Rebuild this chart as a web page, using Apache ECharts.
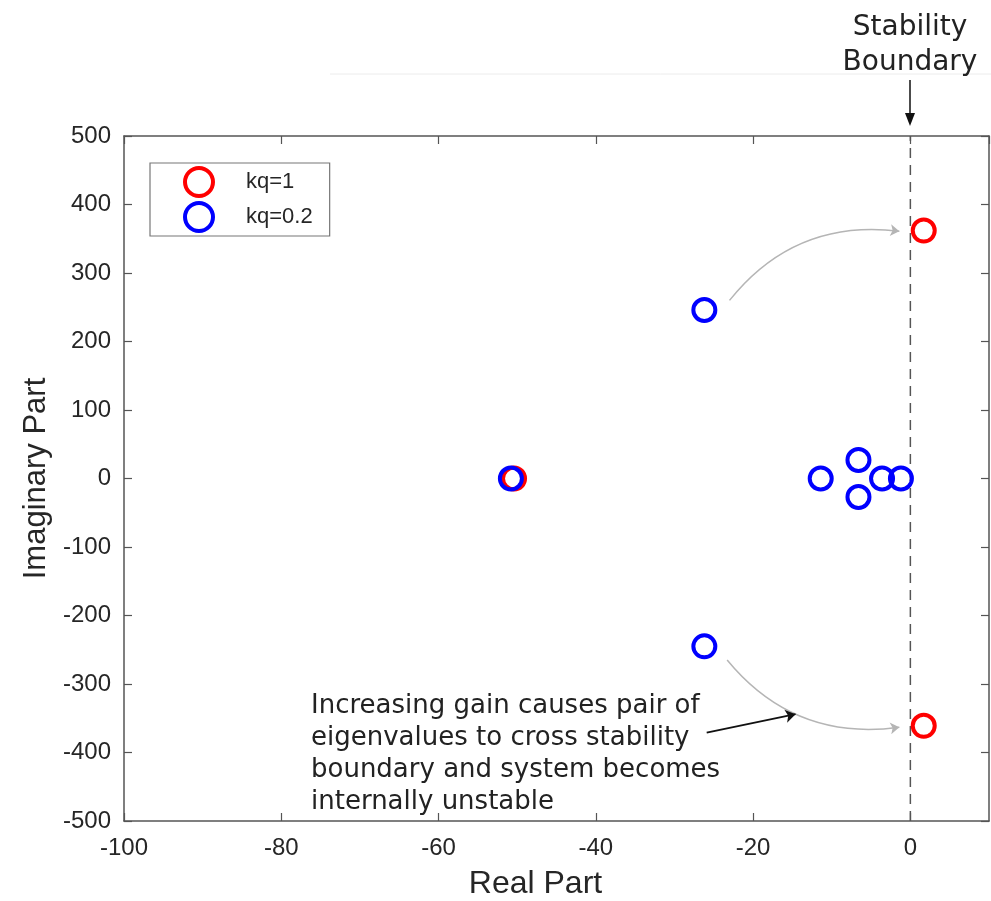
<!DOCTYPE html>
<html>
<head>
<meta charset="utf-8">
<script src="https://cdn.jsdelivr.net/npm/echarts@6/dist/echarts.min.js"></script>
<style>html,body{margin:0;padding:0;background:#fff}#c{width:991px;height:901px}</style>
</head>
<body>
<div id="c"></div>
<script>
// ---- data ----
const seriesNames = ['kq=1', 'kq=0.2'];
const kq1Points = [[1.7, 362], [1.7, -361], [-50.4, 0]];
const kq02Points = [[-26.2, 246], [-26.2, -245], [-50.8, 0], [-11.4, 0], [-6.6, 27], [-6.6, -27], [-3.6, 0], [-1.2, 0]];
const boundaryLine = [[0, -500], [0, 500]];
const xTicks = [-100, -80, -60, -40, -20, 0];
const yTicks = [-500, -400, -300, -200, -100, 0, 100, 200, 300, 400, 500];
const gainArrows = [
  { coords: [[-23, 260], [-1.4, 361]], curve: 0.28 },
  { coords: [[-23.3, -265], [-1.4, -363]], curve: -0.28 }
];
const noteArrow = [[-25.9, -371], [-14.6, -344]];
const noteLines = ['Increasing gain causes pair of', 'eigenvalues to cross stability', 'boundary and system becomes', 'internally unstable'];
const boundaryTitle = ['Stability', 'Boundary'];

const chart = echarts.init(document.getElementById('c'));
const axisColor = '#555';
const textColor = '#262626';
const font = 'Liberation Sans, Arial, sans-serif';
const noteFont = 'DejaVu Sans, Verdana, sans-serif';

const axisBase = {
  axisLine: { show: true, onZero: false, lineStyle: { color: axisColor, width: 1.5 } },
  axisTick: { show: true, inside: true, length: 8, lineStyle: { color: axisColor, width: 1.2 } },
  splitLine: { show: false }
};

const option = {
  animation: false,
  backgroundColor: '#fff',
  grid: { left: 124, right: 2, top: 136, bottom: 80, containLabel: false, outerBoundsMode: 'none' },
  legend: {
    data: seriesNames,
    orient: 'vertical',
    left: 150, top: 163,
    padding: [3, 17, 3, 33],
    itemWidth: 28, itemHeight: 28, itemGap: 3,
    backgroundColor: '#fff',
    borderColor: '#777', borderWidth: 1.2, borderRadius: 0,
    itemStyle: { borderWidth: 4 },
    textStyle: { fontFamily: font, fontSize: 22, lineHeight: 24, color: textColor, padding: [0, 0, 0, 28] }
  },
  xAxis: [
    Object.assign({}, axisBase, {
      type: 'value', min: -100, max: 10, interval: 20, position: 'bottom',
      name: 'Real Part', nameLocation: 'middle', nameGap: 47,
      nameTextStyle: { fontFamily: font, fontSize: 32, color: textColor, padding: [0, 42, 0, 0] },
      axisLabel: {
        fontFamily: font, fontSize: 24, color: textColor, margin: 15, showMaxLabel: false,
        formatter: v => xTicks.includes(v) ? String(v) : ''
      }
    }),
    Object.assign({}, axisBase, {
      type: 'value', min: -100, max: 10, interval: 20, position: 'top',
      axisLabel: { show: false }
    })
  ],
  yAxis: [
    Object.assign({}, axisBase, {
      type: 'value', min: -500, max: 500, interval: 100, position: 'left',
      name: 'Imaginary Part', nameLocation: 'middle', nameGap: 70,
      nameTextStyle: { fontFamily: font, fontSize: 31, color: textColor },
      axisLabel: {
        fontFamily: font, fontSize: 24, color: textColor, margin: 13,
        formatter: v => yTicks.includes(v) ? String(v) : ''
      }
    }),
    Object.assign({}, axisBase, {
      type: 'value', min: -500, max: 500, interval: 100, position: 'right',
      axisLabel: { show: false }
    })
  ],
  series: [
    {
      type: 'line', data: boundaryLine, symbol: 'none', silent: true, z: 1,
      lineStyle: { color: '#555', width: 1.5, type: [10, 7] }
    },
    {
      type: 'lines', coordinateSystem: 'cartesian2d', z: 2, silent: true,
      symbol: ['none', 'arrow'], symbolSize: 9,
      data: gainArrows.map(a => ({ coords: a.coords, lineStyle: { curveness: a.curve } })),
      lineStyle: { color: '#b5b5b5', width: 1.5, opacity: 1 }
    },
    {
      type: 'lines', coordinateSystem: 'cartesian2d', z: 2, silent: true,
      symbol: ['none', 'arrow'], symbolSize: 10,
      data: [{ coords: noteArrow }],
      lineStyle: { color: '#111', width: 2, opacity: 1, curveness: 0 }
    },
    {
      name: seriesNames[0], type: 'scatter', data: kq1Points, z: 3,
      symbol: 'circle', symbolSize: 22,
      itemStyle: { color: 'rgba(255,255,255,0)', borderColor: '#ff0000', borderWidth: 4, opacity: 1 }
    },
    {
      name: seriesNames[1], type: 'scatter', data: kq02Points, z: 4,
      symbol: 'circle', symbolSize: 22,
      itemStyle: { color: 'rgba(255,255,255,0)', borderColor: '#0000ff', borderWidth: 4, opacity: 1 }
    }
  ],
  graphic: [
    { type: 'line', shape: { x1: 330, y1: 74, x2: 991, y2: 74 }, style: { stroke: '#ececec', lineWidth: 1 }, silent: true },
    {
      type: 'text', silent: true,
      style: { text: boundaryTitle.join('\n'), x: 910, y: 10, align: 'center', verticalAlign: 'top',
        font: '28px ' + noteFont, fill: '#222', lineHeight: 35 }
    },
    { type: 'line', shape: { x1: 910, y1: 80, x2: 910, y2: 118 }, style: { stroke: '#111', lineWidth: 1.5 }, silent: true },
    { type: 'polygon', shape: { points: [[905, 113], [915, 113], [910, 126]] }, style: { fill: '#111' }, silent: true },
    {
      type: 'text', silent: true,
      style: { text: noteLines.join('\n'), x: 311, y: 690, align: 'left', verticalAlign: 'top',
        font: '26px ' + noteFont, fill: '#222', lineHeight: 32 }
    }
  ]
};
chart.setOption(option);
</script>
</body>
</html>
